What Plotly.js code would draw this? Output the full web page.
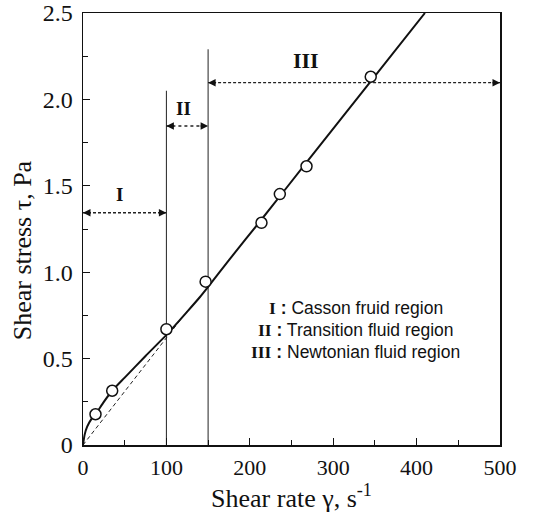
<!DOCTYPE html>
<html>
<head>
<meta charset="utf-8">
<script src="https://cdn.plot.ly/plotly-3.0.1.min.js"></script>
<style>html,body{margin:0;padding:0;background:#fff;}#chart{width:542px;height:513px;}</style>
</head>
<body>
<div id="chart"></div>
<script>
// Measured data points
const dataX = [15, 35, 100, 147, 214, 236, 268, 345];
const dataY = [0.178, 0.314, 0.67, 0.945, 1.286, 1.452, 1.613, 2.131];
// Fitted solid curve
const fitX = [0, 2, 5, 10, 15, 25, 35, 50, 75, 100, 125, 140, 150, 175, 214, 268, 345, 410];
const fitY = [0, 0.06, 0.106, 0.15, 0.178, 0.25, 0.314, 0.39, 0.515, 0.637, 0.772, 0.855, 0.915, 1.07, 1.305, 1.635, 2.105, 2.5];
// Dashed Newtonian extrapolation
const dashX = [0, 125];
const dashY = [0, 0.775];
// Region boundaries
const boundX = [100, 150];
const boundTop = [2.05, 2.29];
// Region arrows
const regionNames = ['I', 'II', 'III'];
const regionStart = [0, 100, 150];
const regionEnd = [100, 150, 500];
const regionArrowY = [1.344, 1.846, 2.097];
const regionLabelX = [43.5, 120, 267];
const regionLabelY = [1.45, 1.948, 2.228];
// Legend-like notes
const noteRoman = ['I', 'II', 'III'];
const noteText = ['Casson fruid region', 'Transition fluid region', 'Newtonian fluid region'];
const noteY = [0.79, 0.665, 0.54];
const noteX = 327;
// Ticks
const xTicks = [0, 100, 200, 300, 400, 500];
const xTickText = ['0', '100', '200', '300', '400', '500'];
const yTicks = [0, 0.5, 1.0, 1.5, 2.0, 2.5];
const yTickText = ['0', '0.5', '1.0', '1.5', '2.0', '2.5'];

const serif = 'Liberation Serif, Times New Roman, serif';
const sans = 'Liberation Sans, Arial, sans-serif';

const traces = [];
boundX.forEach((bx, i) => {
  traces.push({x: [bx, bx], y: [0, boundTop[i]], mode: 'lines', line: {color: '#222', width: 1}, hoverinfo: 'skip'});
});
regionNames.forEach((n, i) => {
  traces.push({x: [regionStart[i], regionEnd[i]], y: [regionArrowY[i], regionArrowY[i]], mode: 'lines',
    line: {color: '#222', width: 1.3, dash: i === 1 ? 'dot' : '3px,2px'}, hoverinfo: 'skip'});
});
traces.push({x: dashX, y: dashY, mode: 'lines', line: {color: '#222', width: 1, dash: '4px,3px'}});
traces.push({x: fitX, y: fitY, mode: 'lines', line: {color: '#111', width: 2, shape: 'spline', smoothing: 0.6}});
traces.push({x: dataX, y: dataY, mode: 'markers', marker: {symbol: 'circle', size: 11, color: '#fff', line: {color: '#111', width: 1.5}}});

const annotations = [];
regionNames.forEach((n, i) => {
  annotations.push({x: regionEnd[i], y: regionArrowY[i], ax: -9, ay: 0, text: ' ', showarrow: true, arrowhead: 2, arrowsize: 1, arrowwidth: 1.5, arrowcolor: '#111', standoff: 0, font: {size: 1}});
  annotations.push({x: regionStart[i], y: regionArrowY[i], ax: 9, ay: 0, text: ' ', showarrow: true, arrowhead: 2, arrowsize: 1, arrowwidth: 1.5, arrowcolor: '#111', standoff: 0, font: {size: 1}});
  annotations.push({x: regionLabelX[i], y: regionLabelY[i], text: '<b>' + n + '</b>', showarrow: false,
    font: {family: serif, size: i === 2 ? 22 : 19, color: '#111'}});
});
noteRoman.forEach((r, i) => {
  annotations.push({x: noteX, y: noteY[i], showarrow: false, xanchor: 'center',
    text: '<span style="font-family:\'Liberation Serif\'"><b>' + r + '</b></span><b> :</b> ' + noteText[i],
    font: {family: sans, size: 17.5, color: '#111'}});
});
annotations.push({xref: 'paper', yref: 'paper', x: -0.146, y: 0.451, xanchor: 'center', yanchor: 'middle', textangle: -90, showarrow: false,
  text: 'Shear stress τ, Pa', font: {family: serif, size: 26, color: '#111'}});

const layout = {
  width: 542, height: 513,
  margin: {l: 83, r: 42, t: 13, b: 68},
  paper_bgcolor: '#fff', plot_bgcolor: '#fff',
  showlegend: false,
  xaxis: {range: [0, 500], tickvals: xTicks, ticktext: xTickText, ticks: 'inside', ticklen: 7, tickwidth: 1, tickcolor: '#111',
    minor: {dtick: 50, tick0: 0, ticks: 'inside', ticklen: 5, tickcolor: '#111'},
    showgrid: false, zeroline: false, showline: true, linecolor: '#111', linewidth: 1.5, mirror: true,
    tickfont: {family: serif, size: 22, color: '#111'}, ticklabelstandoff: 2,
    title: {text: 'Shear rate γ, s<sup>-1</sup>', font: {family: serif, size: 26, color: '#111'}, standoff: 4}},
  yaxis: {range: [0, 2.5], tickvals: yTicks, ticktext: yTickText, ticks: 'inside', ticklen: 7, tickwidth: 1, tickcolor: '#111',
    minor: {dtick: 0.25, tick0: 0, ticks: 'inside', ticklen: 5, tickcolor: '#111'},
    showgrid: false, zeroline: false, showline: true, linecolor: '#111', linewidth: 1.5, mirror: true,
    tickfont: {family: serif, size: 24, color: '#111'}, ticklabelstandoff: 4},
  annotations: annotations
};

Plotly.newPlot('chart', traces, layout, {displayModeBar: false, staticPlot: true});
</script>
</body>
</html>
